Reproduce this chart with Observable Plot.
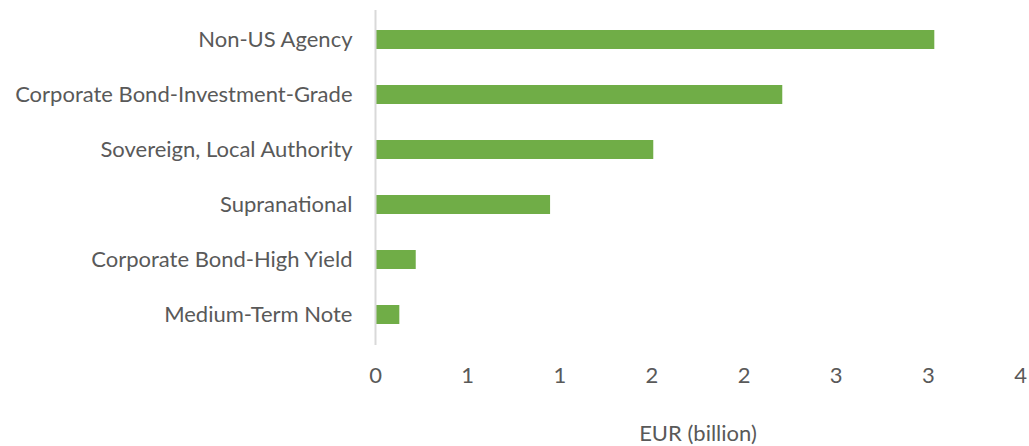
<!DOCTYPE html>
<html>
<head>
<meta charset="utf-8">
<script src="https://cdn.jsdelivr.net/npm/d3@7"></script>
<script src="https://cdn.jsdelivr.net/npm/@observablehq/plot@0.6"></script>
<style>
  html, body { margin: 0; padding: 0; background: #fff; }
  #chart svg { display: block; }
</style>
</head>
<body>
<div id="chart"></div>
<script>
const categories = [
  "Non-US Agency",
  "Corporate Bond-Investment-Grade",
  "Sovereign, Local Authority",
  "Supranational",
  "Corporate Bond-High Yield",
  "Medium-Term Note"
];
const values = [3.035, 2.21, 1.51, 0.95, 0.221, 0.132];
const tickValues = [0, 0.5, 1, 1.5, 2, 2.5, 3, 3.5];
const tickLabels = ["0", "1", "1", "2", "2", "3", "3", "4"];
const axisTitle = "EUR (billion)";

const data = categories.map((c, i) => ({category: c, value: values[i]}));

const chart = Plot.plot({
  width: 1029,
  height: 446,
  marginLeft: 375,
  marginRight: 9,
  marginTop: 10,
  marginBottom: 101,
  style: {fontFamily: "Lato, sans-serif", fontSize: "22px", color: "#595959", background: "#fff"},
  x: {domain: [0, 3.5]},
  y: {domain: categories, paddingInner: 0.65, paddingOuter: 0.325, align: 0.5, label: null},
  marks: [
    Plot.barX(data, {x: "value", y: "category", fill: "#70AD47"}),
    Plot.ruleX([0], {stroke: "#d9d9d9", strokeWidth: 2}),
    Plot.axisY({tickSize: 0, tickPadding: 23, fontSize: 22, fill: "#595959", label: null}),
    Plot.axisX({ticks: tickValues, tickFormat: (d, i) => tickLabels[i], tickSize: 0, tickPadding: 22, fontSize: 22, fill: "#595959", label: axisTitle, labelAnchor: "center", labelArrow: "none", labelOffset: 95})
  ]
});
document.getElementById("chart").appendChild(chart);
</script>
</body>
</html>
